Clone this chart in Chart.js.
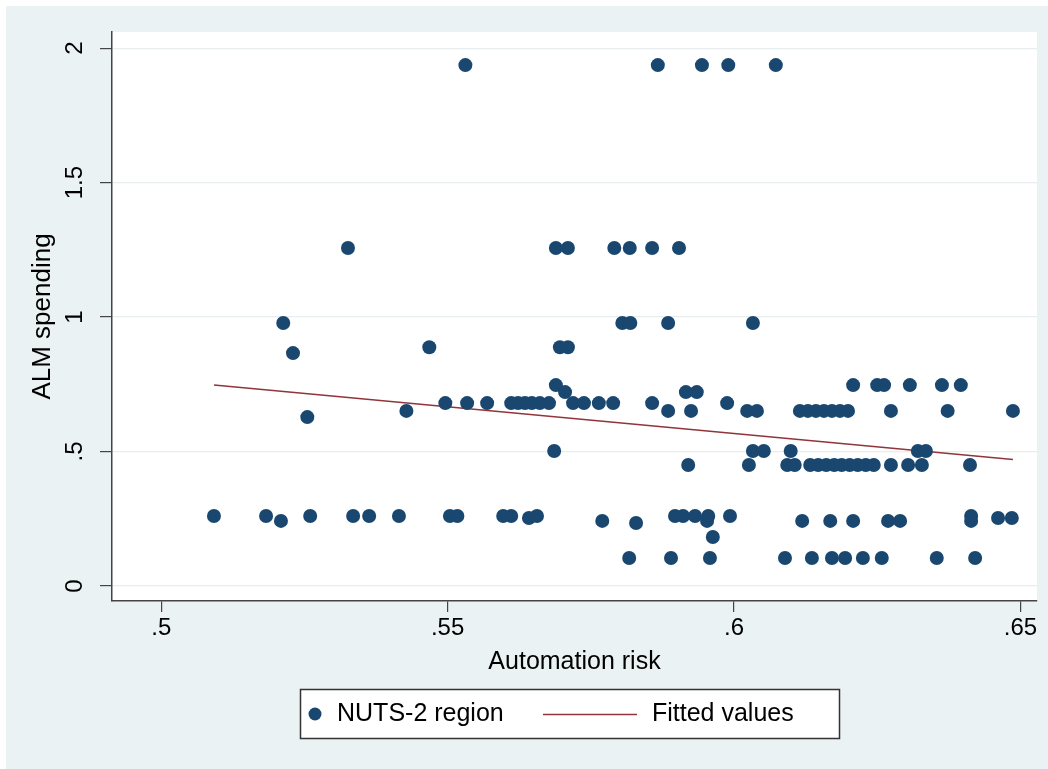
<!DOCTYPE html>
<html>
<head>
<meta charset="utf-8">
<script src="https://cdn.jsdelivr.net/npm/chart.js@4"></script>
<style>
    html, body { margin: 0; padding: 0; background: #fff; }
    #chart { display: block; }
</style>
</head>
<body>
<canvas id="chart" width="1048" height="769"></canvas>
<script>
// automation risk (x) and ALM spending (y) per NUTS-2 region
const regionX = [
    0.5531, 0.5867, 0.5944, 0.5990, 0.6073,
    0.5326, 0.5689, 0.5710, 0.5791, 0.5818, 0.5857, 0.5904,
    0.5213, 0.5805, 0.5819, 0.5885, 0.6033,
    0.5468, 0.5696, 0.5710,
    0.5230,
    0.5689, 0.6208, 0.6250, 0.6262, 0.6307, 0.6363, 0.6396,
    0.5705, 0.5916, 0.5935,
    0.5496, 0.5534, 0.5569, 0.5611, 0.5623, 0.5635, 0.5647, 0.5661, 0.5677, 0.5719, 0.5738, 0.5764, 0.5789, 0.5857, 0.5988,
    0.5428, 0.5885, 0.5925, 0.6023, 0.6040, 0.6115, 0.6129, 0.6143, 0.6157, 0.6171, 0.6185, 0.6199, 0.6274, 0.6373, 0.6487,
    0.5255,
    0.5686, 0.6033, 0.6052, 0.6099, 0.6321, 0.6335,
    0.5920, 0.6026, 0.6093, 0.6106, 0.6133, 0.6147, 0.6161, 0.6175, 0.6188, 0.6202, 0.6216, 0.6230, 0.6244, 0.6274, 0.6304, 0.6328, 0.6412,
    0.5092, 0.5183, 0.5260, 0.5335, 0.5363, 0.5415, 0.5504, 0.5517, 0.5597, 0.5611, 0.5656, 0.5897, 0.5911, 0.5932, 0.5955, 0.5993, 0.6414,
    0.5642, 0.6461, 0.6485,
    0.5209, 0.5770, 0.5953, 0.6119, 0.6168, 0.6208, 0.6269, 0.6290, 0.6414,
    0.5829,
    0.5963,
    0.5817, 0.5890, 0.5958, 0.6089, 0.6136, 0.6171, 0.6194, 0.6225, 0.6258, 0.6354, 0.6421
];
const regionY = [
    1.937, 1.937, 1.937, 1.937, 1.937,
    1.257, 1.257, 1.257, 1.257, 1.257, 1.257, 1.257,
    0.978, 0.978, 0.978, 0.978, 0.978,
    0.888, 0.888, 0.888,
    0.866,
    0.747, 0.747, 0.747, 0.747, 0.747, 0.747, 0.747,
    0.721, 0.721, 0.721,
    0.680, 0.680, 0.680, 0.680, 0.680, 0.680, 0.680, 0.680, 0.680, 0.680, 0.680, 0.680, 0.680, 0.680, 0.680,
    0.651, 0.651, 0.651, 0.651, 0.651, 0.651, 0.651, 0.651, 0.651, 0.651, 0.651, 0.651, 0.651, 0.651, 0.651,
    0.628,
    0.502, 0.502, 0.502, 0.502, 0.502, 0.502,
    0.450, 0.450, 0.450, 0.450, 0.450, 0.450, 0.450, 0.450, 0.450, 0.450, 0.450, 0.450, 0.450, 0.450, 0.450, 0.450, 0.450,
    0.260, 0.260, 0.260, 0.260, 0.260, 0.260, 0.260, 0.260, 0.260, 0.260, 0.260, 0.260, 0.260, 0.260, 0.260, 0.260, 0.260,
    0.253, 0.253, 0.253,
    0.242, 0.242, 0.242, 0.242, 0.242, 0.242, 0.242, 0.242, 0.242,
    0.234,
    0.182,
    0.104, 0.104, 0.104, 0.104, 0.104, 0.104, 0.104, 0.104, 0.104, 0.104, 0.104
];

// fitted line end points
const fitX = [0.5092, 0.6487];
const fitY = [0.747, 0.470];

const xTicks = [0.5, 0.55, 0.6, 0.65];
const yTicks = [0, 0.5, 1, 1.5, 2];

const navy = '#1a476f';
const maroon = '#90353b';
const axisColor = '#444';
const font = { family: '"Liberation Sans", Arial, sans-serif', size: 24 };
const titleFont = { family: font.family, size: 25 };

// stata drops the leading zero
function stataLabel(v) {
    return String(v).replace(/^0\./, '.');
}

const stataFrame = {
    id: 'stataFrame',
    beforeDraw(chart) {
        const ctx = chart.ctx;
        const a = chart.chartArea;
        ctx.save();
        ctx.fillStyle = '#fff';
        ctx.fillRect(0, 0, chart.width, chart.height);
        ctx.fillStyle = '#eaf2f3';
        ctx.fillRect(6, 6, chart.width - 6, chart.height - 6);
        ctx.fillStyle = '#fff';
        ctx.fillRect(a.left, a.top, a.right - a.left, a.bottom - a.top);
        ctx.restore();
    },
    afterDraw(chart) {
        const ctx = chart.ctx;
        const y = chart.scales.y;
        ctx.save();
        ctx.font = `${font.size}px ${font.family}`;
        ctx.fillStyle = '#000';
        ctx.textAlign = 'center';
        ctx.textBaseline = 'middle';
        // vertical y tick labels
        y.ticks.forEach(t => {
            ctx.save();
            ctx.translate(75, y.getPixelForValue(t.value));
            ctx.rotate(-Math.PI / 2);
            ctx.fillText(stataLabel(t.value), 0, 0);
            ctx.restore();
        });

        // legend box
        const ds = chart.data.datasets;
        ctx.fillStyle = '#fff';
        ctx.fillRect(300, 689, 539, 49);
        ctx.strokeStyle = '#333';
        ctx.lineWidth = 1.5;
        ctx.strokeRect(300.5, 689.5, 539, 49);
        ctx.fillStyle = navy;
        ctx.beginPath();
        ctx.arc(315, 714, 6.5, 0, Math.PI * 2);
        ctx.fill();
        ctx.strokeStyle = maroon;
        ctx.beginPath();
        ctx.moveTo(543, 714.5);
        ctx.lineTo(637, 714.5);
        ctx.stroke();
        ctx.fillStyle = '#000';
        ctx.textAlign = 'left';
        ctx.font = `${titleFont.size}px ${font.family}`;
        ctx.fillText(ds[0].label, 337, 714);
        ctx.fillText(ds[1].label, 652, 714);
        ctx.restore();
    }
};

new Chart(document.getElementById('chart'), {
    type: 'scatter',
    data: {
        datasets: [
            {
                label: 'NUTS-2 region',
                data: regionX.map((x, i) => ({ x: x, y: regionY[i] })),
                backgroundColor: navy,
                borderWidth: 0,
                pointRadius: 7,
            },
            {
                label: 'Fitted values',
                data: fitX.map((x, i) => ({ x: x, y: fitY[i] })),
                showLine: true,
                borderColor: maroon,
                borderWidth: 1.5,
                pointRadius: 0,
            },
        ]
    },
    options: {
        responsive: false,
        animation: false,
        devicePixelRatio: 1,
        layout: { padding: { left: 0, top: 32, right: 11, bottom: 0 } },
        plugins: {
            legend: { display: false },
            tooltip: { enabled: false },
        },
        scales: {
            x: {
                type: 'linear',
                min: 0.4914,
                max: 0.6529,
                afterBuildTicks: s => { s.ticks = xTicks.map(v => ({ value: v })); },
                afterFit: s => { s.height = 168; },
                grid: { drawOnChartArea: false, tickColor: axisColor, tickLength: 11, lineWidth: 1.2 },
                border: { color: axisColor, width: 1.5 },
                ticks: { font: font, color: '#000', padding: 2, maxRotation: 0, autoSkip: false, callback: v => stataLabel(v) },
                title: { display: true, text: 'Automation risk', font: titleFont, color: '#000', padding: { bottom: 92 } },
            },
            y: {
                min: -0.0558,
                max: 2.06,
                afterBuildTicks: s => { s.ticks = yTicks.map(v => ({ value: v })); },
                afterFit: s => { s.width = 112; },
                grid: { color: '#e8edef', tickColor: axisColor, tickLength: 12, lineWidth: 1.2 },
                border: { color: axisColor, width: 1.5 },
                ticks: { display: false },
                title: { display: true, text: 'ALM spending', font: { family: font.family, size: 26 }, color: '#000', padding: { top: 27 } },
            },
        }
    },
    plugins: [stataFrame]
});
</script>
</body>
</html>
